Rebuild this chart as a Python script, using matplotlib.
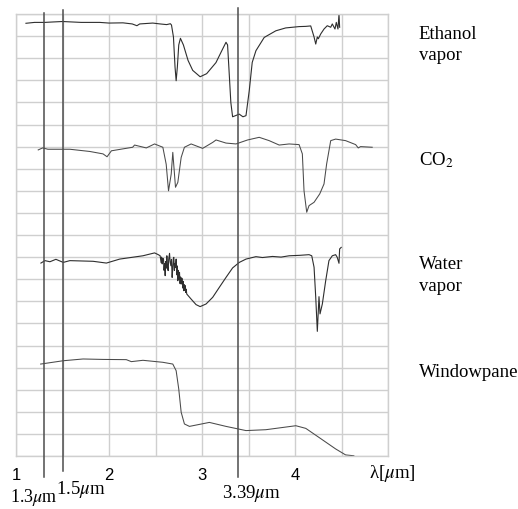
import matplotlib
matplotlib.use("Agg")
import matplotlib.pyplot as plt
import numpy as np

plt.rcParams['font.family'] = ['Liberation Serif', 'DejaVu Serif']
plt.rcParams['mathtext.fontset'] = 'stix'

# ---------------- data ----------------
# y in grid units (each horizontal grid row = 1 unit), x in micrometres
ethanol_x = [1.107, 1.2, 1.31, 1.4, 1.5, 1.7, 1.9, 2.0, 2.15, 2.25, 2.3, 2.33, 2.47, 2.55,
             2.62, 2.66, 2.672, 2.693, 2.71, 2.722, 2.735, 2.75, 2.768, 2.8, 2.85, 2.9,
             2.98, 3.05, 3.15, 3.22, 3.258, 3.275, 3.29, 3.31, 3.329, 3.36, 3.40, 3.44,
             3.473, 3.508, 3.54, 3.58, 3.669, 3.794, 3.90, 4.044, 4.116, 4.169, 4.205,
             4.223, 4.24, 4.251, 4.277, 4.312, 4.347, 4.384, 4.401, 4.43, 4.444, 4.462,
             4.473, 4.48]
ethanol_y = [19.58, 19.62, 19.62, 19.64, 19.66, 19.62, 19.62, 19.59, 19.6, 19.55, 19.47, 19.55,
             19.59, 19.55, 19.52, 19.56, 19.5, 18.96, 17.6, 16.98, 17.6, 18.6, 18.9, 18.6,
             17.9, 17.45, 17.16, 17.3, 17.8, 18.4, 18.72, 18.6, 17.5, 16.0, 15.35, 15.4,
             15.47, 15.35, 15.4, 16.53, 17.81, 18.34, 18.94, 19.24, 19.37, 19.43, 19.44,
             19.46, 18.96, 18.64, 18.96, 18.88, 19.1, 19.32, 19.47, 19.4, 19.55, 19.32,
             19.62, 19.32, 20.0, 19.4]

co2_x = [1.239, 1.286, 1.343, 1.579, 1.793, 1.936, 1.979, 2.026, 2.254, 2.275, 2.401, 2.49,
         2.579, 2.615, 2.64, 2.669, 2.686, 2.715, 2.74, 2.776, 2.811, 2.883, 3.007, 3.115,
         3.151, 3.258, 3.365, 3.49, 3.615, 3.722, 3.83, 3.937, 4.044, 4.079, 4.097, 4.126,
         4.151, 4.205, 4.266, 4.312, 4.34, 4.384, 4.437, 4.544, 4.652, 4.68, 4.705, 4.83]
co2_y = [13.85, 13.94, 13.88, 13.88, 13.78, 13.67, 13.54, 13.81, 13.97, 14.07, 13.94, 14.12,
         13.97, 13.2, 12.0, 12.76, 13.74, 12.16, 12.38, 13.51, 13.97, 14.12, 13.92, 14.19,
         14.3, 14.16, 14.12, 14.3, 14.42, 14.27, 14.07, 14.12, 14.09, 13.67, 12.0, 11.03,
         11.33, 11.48, 11.86, 12.31, 13.21, 14.27, 14.34, 14.27, 14.09, 13.94, 14.0, 13.97]

water_x = [1.268, 1.311, 1.365, 1.429, 1.508, 1.579, 1.829, 1.972, 2.115, 2.365, 2.49, 2.53,
           2.55, 2.56, 2.565, 2.572, 2.578, 2.586, 2.592, 2.598, 2.604, 2.61, 2.616, 2.622,
           2.628, 2.636, 2.642, 2.651, 2.657, 2.665, 2.672, 2.679, 2.686, 2.692, 2.697, 2.703,
           2.709, 2.715, 2.722, 2.728, 2.734, 2.74, 2.746, 2.752, 2.758, 2.764, 2.77, 2.776,
           2.782, 2.787, 2.793, 2.798, 2.804, 2.81, 2.815, 2.819, 2.825, 2.83, 2.836,
           2.883, 2.936, 2.98, 3.044, 3.115,
           3.186, 3.258, 3.329, 3.401, 3.473, 3.58, 3.65, 3.758, 3.85, 3.937, 4.05, 4.151,
           4.18, 4.205, 4.223, 4.24, 4.258, 4.269, 4.294, 4.33, 4.365, 4.401, 4.437, 4.454,
           4.473, 4.48, 4.497]
water_y = [8.73, 8.84, 8.79, 8.9, 8.76, 8.84, 8.81, 8.73, 8.91, 9.06, 9.19, 9.11,
           9.06, 8.75, 9.0, 8.69, 8.95, 8.91, 8.4, 8.7, 8.16, 8.8, 8.5, 9.06,
           8.6, 8.39, 8.9, 9.17, 8.8, 8.61, 8.9, 8.08, 8.5, 8.95, 8.99, 8.4,
           8.7, 8.54, 8.91, 8.2, 8.6, 7.93, 8.4, 8.0, 8.31, 7.8, 8.1, 7.78,
           8.05, 8.01, 7.6, 7.9, 7.48, 7.75, 7.5, 7.71, 7.4, 7.55, 7.33,
           7.1, 6.85, 6.76, 6.88, 7.18,
           7.63, 8.08, 8.51, 8.76, 8.91, 9.02, 8.98, 9.03, 9.0, 9.06, 9.08, 9.11,
           9.06, 8.54, 7.18, 5.64, 7.21, 6.43, 6.88, 7.93, 8.84, 9.06, 9.11, 8.99,
           8.72, 9.37, 9.44]

window_x = [1.265, 1.507, 1.721, 1.936, 2.186, 2.24, 2.365, 2.579, 2.686, 2.722, 2.75, 2.776,
            2.811, 2.865, 3.079, 3.258, 3.473, 3.687, 4.009, 4.116, 4.258, 4.437, 4.544, 4.633]
window_y = [4.16, 4.31, 4.39, 4.37, 4.36, 4.27, 4.33, 4.24, 4.16, 3.86, 3.03, 1.98,
            1.45, 1.34, 1.52, 1.34, 1.15, 1.19, 1.37, 1.25, 0.84, 0.32, 0.05, 0.01]

tick_values = [1, 2, 3, 4]
tick_labels = ['1', '2', '3', '4']
marker_wavelengths = [1.3, 1.5, 3.39]
marker_labels = ['1.3$\\mu$m', '1.5$\\mu$m', '3.39$\\mu$m']
series_names = ['Ethanol\nvapor', 'CO$_2$', 'Water\nvapor', 'Windowpane']

# ---------------- figure ----------------
fig = plt.figure(figsize=(5.18, 5.10), dpi=100)
ax = fig.add_axes([16/518, 1 - 457/510, (388-16)/518, (457-15)/510])
ax.set_xlim(1, 5)
ax.set_ylim(0, 20)

ax.set_xticks(tick_values)
ax.set_xticklabels(tick_labels, family='Liberation Sans', fontsize=12)
ax.set_xticks(np.arange(1, 5.01, 0.5), minor=True)
ax.set_yticks(np.arange(0, 20.01, 1))
ax.tick_params(axis='both', which='both', length=0)
ax.tick_params(axis='x', pad=8)
ax.set_yticklabels([])
ax.grid(True, which='both', color='#cfcfcf', lw=1.0)
ax.set_axisbelow(True)
for s in ax.spines.values():
    s.set_color('#cfcfcf')
    s.set_linewidth(1.0)

ax.plot(ethanol_x, ethanol_y, color='#2e2e2e', lw=0.8)
ax.plot(co2_x, co2_y, color='#4a4a4a', lw=0.75)
ax.plot(water_x, water_y, color='#2e2e2e', lw=0.8)
ax.plot(window_x, window_y, color='#4a4a4a', lw=0.75)

# marker wavelength lines extending above and below the plot
line_ext = {1.3: (-0.95, 20.05), 1.5: (-0.7, 20.18), 3.39: (-0.95, 20.27)}
for w in marker_wavelengths:
    lo, hi = line_ext[w]
    ax.plot([w, w], [lo, hi], color='#4d4d4d', lw=1.1, clip_on=False, zorder=3)

fs = 13.5
ax.text(0.936, -2.05, marker_labels[0], fontsize=13, ha='left', va='baseline', clip_on=False)
ax.text(1.429, -1.68, marker_labels[1], fontsize=fs, ha='left', va='baseline', clip_on=False)
ax.text(3.219, -1.87, marker_labels[2], fontsize=fs, ha='left', va='baseline', clip_on=False)
ax.text(4.794, -0.95, '\u03bb[$\\mu$m]', fontsize=fs, ha='left', va='baseline', clip_on=False)

lx = 5.33
ax.text(lx, 18.9, 'Ethanol', fontsize=fs, ha='left', va='baseline', clip_on=False)
ax.text(lx, 17.96, 'vapor', fontsize=fs, ha='left', va='baseline', clip_on=False)
ax.text(lx, 13.21, series_names[1], fontsize=fs, ha='left', va='baseline', clip_on=False)
ax.text(lx, 8.5, 'Water', fontsize=fs, ha='left', va='baseline', clip_on=False)
ax.text(lx, 7.51, 'vapor', fontsize=fs, ha='left', va='baseline', clip_on=False)
ax.text(lx, 3.63, series_names[3], fontsize=fs, ha='left', va='baseline', clip_on=False)

fig.savefig('out.png', dpi=100)
